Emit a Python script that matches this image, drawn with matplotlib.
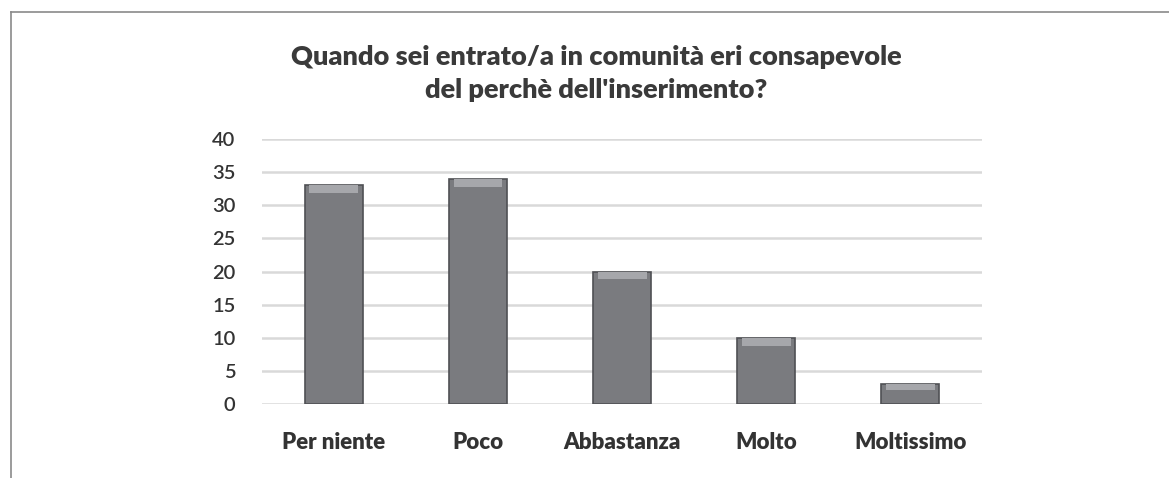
import matplotlib.pyplot as plt
from matplotlib.lines import Line2D

categories = ['Per niente', 'Poco', 'Abbastanza', 'Molto', 'Moltissimo']
values = [33, 34, 20, 10, 3]
y_ticks = [0, 5, 10, 15, 20, 25, 30, 35, 40]

plt.rcParams['font.family'] = ['Lato', 'DejaVu Sans']

fig = plt.figure(figsize=(11.69, 4.78), dpi=100, facecolor='white')
ax = fig.add_axes([0.2241, 0.1548, 0.616, 0.5544])

# cornice esterna (parzialmente tagliata come nello screenshot)
fig.add_artist(Line2D([11 / 1169, 11 / 1169], [0, 1 - 12 / 478], transform=fig.transFigure,
                      color='#8a8a8a', linewidth=1.2))
fig.add_artist(Line2D([11 / 1169, 1], [1 - 12 / 478, 1 - 12 / 478], transform=fig.transFigure,
                      color='#8a8a8a', linewidth=1.2))

x = list(range(len(categories)))
ax.bar(x, values, width=0.4, color='#7a7b7f', edgecolor='#4f5054', linewidth=1.2, zorder=3)
# smusso chiaro in cima alle barre
bevel = [min(1.2, v * 0.3) for v in values]
ax.bar(x, bevel, bottom=[v - b for v, b in zip(values, bevel)], width=0.34,
       color='#a6a7ab', edgecolor='none', zorder=4)

ax.set_xlim(-0.5, len(categories) - 0.5)
ax.set_ylim(0, 40)
ax.set_yticks(y_ticks)
ax.yaxis.grid(True, color='#d9d9d9', linewidth=1.8, zorder=0)
ax.set_axisbelow(True)
for s in ax.spines.values():
    s.set_visible(False)
ax.tick_params(axis='both', length=0)
ax.tick_params(axis='y', pad=19, labelsize=14.5, labelcolor='#333333')
ax.tick_params(axis='x', pad=20, labelsize=16, labelcolor='#333333')
ax.set_xticks(x)
ax.set_xticklabels(categories, fontweight='heavy')
for lbl in ax.get_yticklabels():
    lbl.set_fontweight('semibold')

fig.text(0.51, 0.846, "Quando sei entrato/a in comunità eri consapevole\ndel perchè dell'inserimento?",
         ha='center', va='center', fontsize=19.5, fontweight='heavy', color='#3a3a3a',
         linespacing=1.42)

fig.savefig('out.png', dpi=100, facecolor='white')
